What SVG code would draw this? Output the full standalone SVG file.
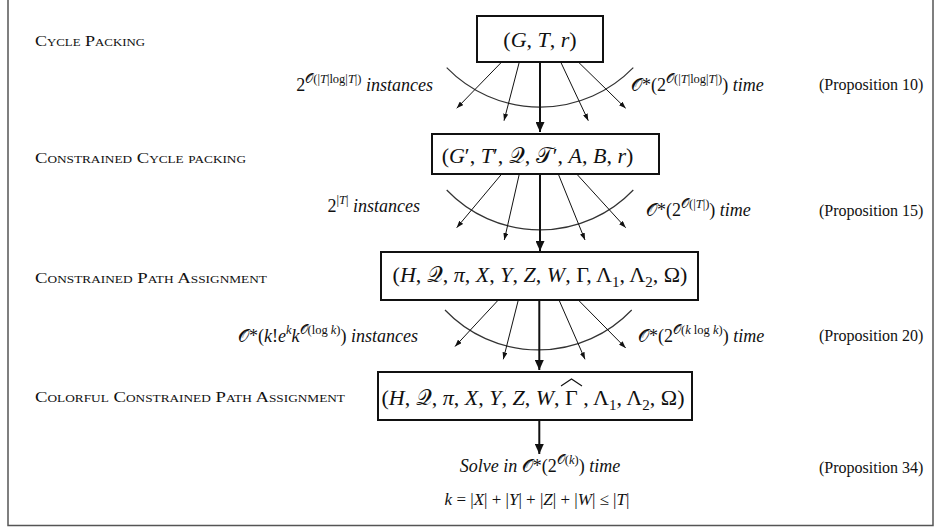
<svg xmlns="http://www.w3.org/2000/svg" width="941" height="529" viewBox="0 0 941 529">
<defs>
<style>
text{font-family:"Liberation Serif","DejaVu Serif",serif;fill:#111}
.cap{font-size:15.5px;font-variant:small-caps}
.prop{font-size:16px}
.box{font-size:22px}
.lbl{font-size:18px}
.i{font-style:italic}
.sup{font-size:12.5px}
.sub{font-size:15px}
.node{fill:#fff;stroke:#111;stroke-width:2}
.fan{stroke:#111;stroke-width:1;fill:none}
.main{stroke:#111;stroke-width:2;fill:none}
.arc{stroke:#333;stroke-width:1.2;fill:none}
.frame{stroke:#555;stroke-width:1.5;fill:none}
.hat{stroke:#111;stroke-width:1.1;fill:none}
</style>
<marker id="sm" viewBox="0 0 7 5" refX="7" refY="2.5" markerWidth="7" markerHeight="5" orient="auto" markerUnits="userSpaceOnUse"><path d="M0,0 L7,2.5 L0,5 z" fill="#111"/></marker>
<marker id="lg" viewBox="0 0 10 9" refX="10" refY="4.5" markerWidth="10" markerHeight="9" orient="auto" markerUnits="userSpaceOnUse"><path d="M0,0 L10,4.5 L0,9 z" fill="#111"/></marker>
</defs>
<path class="frame" d="M8,0 V525.5 H933 V0"/>

<g id="connectors">
<path class="arc" d="M446.7,67.7 A130 130 0 0 0 633.3,67.7"/>
<line class="fan" x1="501.7" y1="62" x2="456.7" y2="108.3" marker-end="url(#sm)"/>
<line class="fan" x1="519.3" y1="62" x2="504" y2="120.7" marker-end="url(#sm)"/>
<line class="fan" x1="560.7" y1="62" x2="588.3" y2="120.7" marker-end="url(#sm)"/>
<line class="fan" x1="578.3" y1="62" x2="625.7" y2="108.3" marker-end="url(#sm)"/>
<line class="main" x1="540" y1="62" x2="540" y2="132" marker-end="url(#lg)"/>

<path class="arc" d="M446.7,190 A129 129 0 0 0 633.3,190"/>
<line class="fan" x1="501.7" y1="174" x2="456.7" y2="227.7" marker-end="url(#sm)"/>
<line class="fan" x1="519.3" y1="174" x2="504.3" y2="240" marker-end="url(#sm)"/>
<line class="fan" x1="558.3" y1="174" x2="585" y2="240" marker-end="url(#sm)"/>
<line class="fan" x1="576.7" y1="174" x2="625.7" y2="227.7" marker-end="url(#sm)"/>
<line class="main" x1="540" y1="174" x2="540" y2="251" marker-end="url(#lg)"/>

<path class="arc" d="M445,310 A129 129 0 0 0 631.7,310"/>
<line class="fan" x1="498.3" y1="300" x2="455" y2="346.5" marker-end="url(#sm)"/>
<line class="fan" x1="518.3" y1="300" x2="503.3" y2="359.3" marker-end="url(#sm)"/>
<line class="fan" x1="559" y1="300" x2="585" y2="359.3" marker-end="url(#sm)"/>
<line class="fan" x1="578.3" y1="300" x2="625.7" y2="348" marker-end="url(#sm)"/>
<line class="main" x1="539.3" y1="300" x2="539.3" y2="370" marker-end="url(#lg)"/>

<line class="main" x1="539.3" y1="420" x2="539.3" y2="454" marker-end="url(#lg)"/>
</g>

<g id="n1">
<rect class="node" x="477" y="16" width="126" height="46"/>
<text class="box" x="540" y="47" text-anchor="middle">(<tspan class="i">G</tspan>, <tspan class="i">T</tspan>, <tspan class="i">r</tspan>)</text>
</g>
<g id="n2">
<rect class="node" x="432" y="134" width="227" height="40"/>
<text class="box" x="537.5" y="163" text-anchor="middle">(<tspan class="i">G</tspan>′, <tspan class="i">T</tspan>′, 𝒬, 𝒯′, <tspan class="i">A</tspan>, <tspan class="i">B</tspan>, <tspan class="i">r</tspan>)</text>
</g>
<g id="n3">
<rect class="node" x="381" y="252" width="317" height="48"/>
<text class="box" x="540" y="282" text-anchor="middle">(<tspan class="i">H</tspan>, 𝒬, <tspan class="i">π</tspan>, <tspan class="i">X</tspan>, <tspan class="i">Y</tspan>, <tspan class="i">Z</tspan>, <tspan class="i">W</tspan>, Γ, Λ<tspan class="sub" dy="5">1</tspan><tspan dy="-5">, Λ</tspan><tspan class="sub" dy="5">2</tspan><tspan dy="-5">, Ω)</tspan></text>
</g>
<g id="n4">
<rect class="node" x="378" y="372" width="314" height="48"/>
<text class="box" x="533" y="405" text-anchor="middle">(<tspan class="i">H</tspan>, 𝒬, <tspan class="i">π</tspan>, <tspan class="i">X</tspan>, <tspan class="i">Y</tspan>, <tspan class="i">Z</tspan>, <tspan class="i">W</tspan>,  Γ , Λ<tspan class="sub" dy="5">1</tspan><tspan dy="-5">, Λ</tspan><tspan class="sub" dy="5">2</tspan><tspan dy="-5">, Ω)</tspan></text>
<polyline class="hat" points="561,386 571.5,379 582,386"/>
</g>
<g id="result">
<text class="lbl" x="540" y="472" text-anchor="middle"><tspan class="i">Solve in </tspan>𝒪*(2<tspan class="sup" dy="-8">𝒪(<tspan class="i">k</tspan>)</tspan><tspan dy="8">) </tspan><tspan class="i">time</tspan></text>
<text style="font-size:17px" x="537" y="505" text-anchor="middle"><tspan class="i">k</tspan> = |<tspan class="i">X</tspan>| + |<tspan class="i">Y</tspan>| + |<tspan class="i">Z</tspan>| + |<tspan class="i">W</tspan>| ≤ |<tspan class="i">T</tspan>|</text>
</g>

<g id="labels">
<text class="cap" x="35" y="46" textLength="110" lengthAdjust="spacingAndGlyphs">Cycle Packing</text>
<text class="cap" x="35" y="163" textLength="211" lengthAdjust="spacingAndGlyphs">Constrained Cycle packing</text>
<text class="cap" x="35" y="283" textLength="232" lengthAdjust="spacingAndGlyphs">Constrained Path Assignment</text>
<text class="cap" x="35" y="402" textLength="310" lengthAdjust="spacingAndGlyphs">Colorful Constrained Path Assignment</text>

<text class="lbl" x="433" y="91" text-anchor="end">2<tspan class="sup" dy="-8">𝒪(|<tspan class="i">T</tspan>|log|<tspan class="i">T</tspan>|)</tspan><tspan class="i" dy="8"> instances</tspan></text>
<text class="lbl" x="631" y="91">𝒪*(2<tspan class="sup" dy="-8">𝒪(|<tspan class="i">T</tspan>|log|<tspan class="i">T</tspan>|)</tspan><tspan dy="8">) </tspan><tspan class="i">time</tspan></text>
<text class="prop" x="819" y="90">(Proposition 10)</text>

<text class="lbl" x="420" y="212" text-anchor="end">2<tspan class="sup" dy="-8">|<tspan class="i">T</tspan>|</tspan><tspan class="i" dy="8"> instances</tspan></text>
<text class="lbl" x="646" y="216">𝒪*(2<tspan class="sup" dy="-8">𝒪(|<tspan class="i">T</tspan>|)</tspan><tspan dy="8">) </tspan><tspan class="i">time</tspan></text>
<text class="prop" x="819" y="216">(Proposition 15)</text>

<text class="lbl" x="418" y="342" text-anchor="end">𝒪*(<tspan class="i">k</tspan>!<tspan class="i">e</tspan><tspan class="sup i" dy="-8">k</tspan><tspan class="i" dy="8">k</tspan><tspan class="sup" dy="-8">𝒪(log <tspan class="i">k</tspan>)</tspan><tspan dy="8">) </tspan><tspan class="i">instances</tspan></text>
<text class="lbl" x="638" y="342">𝒪*(2<tspan class="sup" dy="-8">𝒪(<tspan class="i">k</tspan> log <tspan class="i">k</tspan>)</tspan><tspan dy="8">) </tspan><tspan class="i">time</tspan></text>
<text class="prop" x="819" y="341">(Proposition 20)</text>

<text class="prop" x="819" y="473">(Proposition 34)</text>
</g>
</svg>
